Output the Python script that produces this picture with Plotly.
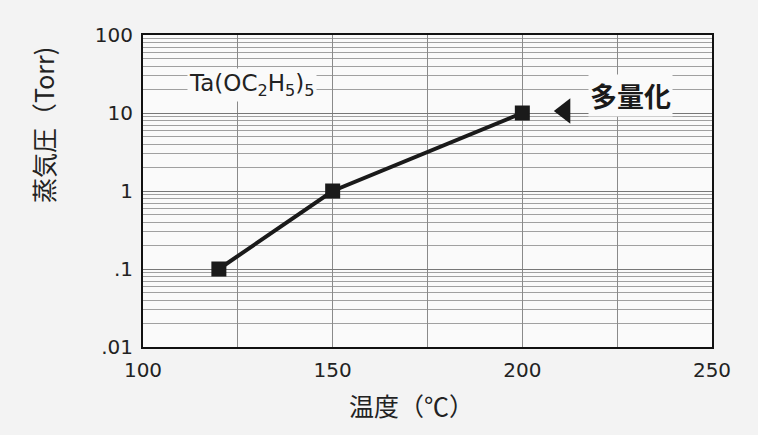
import plotly.graph_objects as go

# Vapor pressure of Ta(OC2H5)5 vs temperature
temperature_c = [120, 150, 200]
vapor_pressure_torr = [0.1, 1, 10]

x_tick_vals = [100, 125, 150, 175, 200, 225, 250]
x_tick_text = ["100", "", "150", "", "200", "", "250"]
y_tick_vals = [0.01, 0.1, 1, 10, 100]
y_tick_text = [".01", ".1", "1", "10", "100"]

tick_font = dict(family="DejaVu Sans, Verdana, sans-serif", size=20, color="#222")
cjk_font = "Noto Sans CJK JP"

fig = go.Figure()

fig.add_trace(go.Scatter(
    x=temperature_c, y=vapor_pressure_torr,
    mode="lines+markers",
    line=dict(color="#1a1a1a", width=4),
    marker=dict(symbol="square", size=15, color="#1a1a1a"),
    showlegend=False, hoverinfo="x+y",
))

# pointer next to the highlighted point
fig.add_trace(go.Scatter(
    x=[211.2], y=[10.6],
    mode="markers",
    marker=dict(symbol="triangle-left", size=22, color="#1a1a1a"),
    showlegend=False, hoverinfo="skip",
))

fig.add_annotation(
    x=128.7, y=1.36, xref="x", yref="y",
    xanchor="center", yanchor="middle",
    text="Ta(OC<sub>2</sub>H<sub>5</sub>)<sub>5</sub>",
    showarrow=False, bgcolor="#fafafa",
    font=dict(family="DejaVu Sans, sans-serif", size=23, color="#222"),
)
fig.add_annotation(
    x=228.5, y=1.23, xref="x", yref="y",
    xanchor="center", yanchor="middle",
    text="<b>多量化</b>",
    showarrow=False, bgcolor="#fafafa",
    font=dict(family=cjk_font, size=27, color="#1a1a1a"),
)

# axis titles (positions given in pixels, converted below)
fig.add_annotation(
    x=43, y=125, xref="paper", yref="paper",
    xanchor="center", yanchor="middle",
    text="蒸気圧（Torr)", textangle=-90,
    showarrow=False,
    font=dict(family=cjk_font, size=25, color="#222"),
)
fig.add_annotation(
    x=411, y=405, xref="paper", yref="paper",
    xanchor="center", yanchor="middle",
    text="温度（℃）",
    showarrow=False,
    font=dict(family=cjk_font, size=25, color="#222"),
)

fig.update_layout(
    width=758, height=435,
    margin=dict(l=143, r=46, t=35, b=88),
    paper_bgcolor="#f3f3f3",
    plot_bgcolor="#fafafa",
    xaxis=dict(
        range=[100, 250], tickvals=x_tick_vals, ticktext=x_tick_text,
        showgrid=True, gridcolor="#8a8a8a", gridwidth=1,
        showline=True, linecolor="#111", linewidth=2, mirror=True,
        ticks="", tickfont=tick_font, zeroline=False,
        ticklabelstandoff=4,
    ),
    yaxis=dict(
        type="log", range=[-2, 2],
        tickvals=y_tick_vals, ticktext=y_tick_text,
        showgrid=True, gridcolor="#777", gridwidth=1,
        minor=dict(showgrid=True, dtick="D1", gridcolor="#a0a0a0", gridwidth=1),
        showline=True, linecolor="#111", linewidth=2, mirror=True,
        ticks="", tickfont=tick_font, zeroline=False,
        ticklabelstandoff=4,
    ),
)

# convert pixel positions of paper-referenced annotations to paper fractions
for ann in fig.layout.annotations:
    if ann.xref == "paper":
        ann.x = (ann.x - 143) / (758 - 143 - 46)
        ann.y = 1 - (ann.y - 35) / (435 - 35 - 88)

fig.write_html("out.html")
